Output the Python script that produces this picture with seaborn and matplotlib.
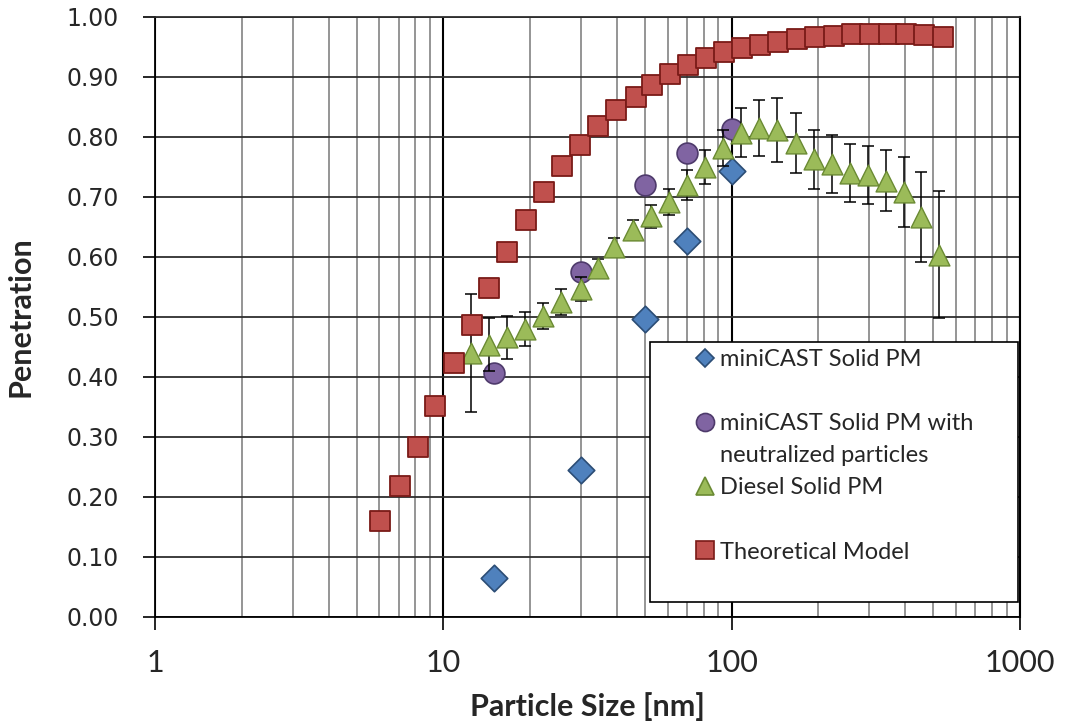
import numpy as np
import pandas as pd
import matplotlib
matplotlib.use("Agg")
import matplotlib.pyplot as plt
from matplotlib.lines import Line2D
from matplotlib.ticker import LogLocator, FixedLocator, NullFormatter
import seaborn as sns

# ---------------- data ----------------
minicast_x = [15, 30, 50, 70, 100]
minicast_y = [0.065, 0.245, 0.497, 0.627, 0.744]

neutral_x = [15, 30, 50, 70, 100]
neutral_y = [0.407, 0.575, 0.720, 0.774, 0.813]

diesel_x = [12.5, 14.4, 16.6, 19.2, 22.1, 25.5, 30.1, 34.3, 39.2, 45.6, 52.6,
            60.8, 70.2, 81.0, 93.4, 108, 124, 144, 167, 193, 222, 257, 296,
            342, 395, 455, 525]
diesel_y = [0.440, 0.454, 0.466, 0.480, 0.502, 0.525, 0.547, 0.582, 0.617,
            0.645, 0.668, 0.692, 0.720, 0.750, 0.782, 0.807, 0.815, 0.812,
            0.790, 0.763, 0.755, 0.740, 0.737, 0.727, 0.708, 0.667, 0.604]
diesel_err = [0.098, 0.044, 0.036, 0.028, 0.022, 0.021, 0.020, 0.014, 0.015,
              0.017, 0.019, 0.022, 0.025, 0.029, 0.030, 0.041, 0.047, 0.053,
              0.050, 0.049, 0.048, 0.048, 0.048, 0.051, 0.058, 0.075, 0.106]

theory_x = [6.04, 7.08, 8.18, 9.36, 10.9, 12.6, 14.4, 16.6, 19.3, 22.3, 25.7,
            29.7, 34.5, 39.8, 46.4, 53.1, 61.2, 70.7, 81.5, 94, 109, 125, 145,
            169, 195, 226, 262, 303, 350, 403, 465, 539]
theory_y = [0.160, 0.218, 0.283, 0.352, 0.424, 0.487, 0.549, 0.608, 0.662,
            0.709, 0.751, 0.787, 0.818, 0.845, 0.867, 0.887, 0.905, 0.920,
            0.931, 0.941, 0.948, 0.954, 0.959, 0.963, 0.966, 0.969, 0.971,
            0.972, 0.972, 0.972, 0.970, 0.966]

labels = ["miniCAST Solid PM", "miniCAST Solid PM with",
          "neutralized particles", "Diesel Solid PM", "Theoretical Model"]
x_ticks = [1, 10, 100, 1000]
x_ticklabels = ["1", "10", "100", "1000"]
y_ticks = [0.0, 0.1, 0.2, 0.3, 0.4, 0.5, 0.6, 0.7, 0.8, 0.9, 1.0]
y_ticklabels = ["0.00", "0.10", "0.20", "0.30", "0.40", "0.50", "0.60",
                "0.70", "0.80", "0.90", "1.00"]

# ---------------- style ----------------
sns.set_theme(style="white")
plt.rcParams['font.family'] = ['Lato', 'DejaVu Sans']

C_DIA, E_DIA = "#4F81BD", "#2C4D75"
C_CIR, E_CIR = "#8064A2", "#4E3A6B"
C_TRI, E_TRI = "#9BBB59", "#6A8A33"
C_SQ, E_SQ = "#C0504D", "#7A1A17"

fig = plt.figure(figsize=(10.67, 7.25), dpi=100)
ax = fig.add_axes([155/1067, 1 - 617/725, 865/1067, 600/725])

ax.set_xscale("log")
ax.set_xlim(1, 1000)
ax.set_ylim(0, 1.0)

# grid
ax.yaxis.set_major_locator(FixedLocator(y_ticks))
ax.xaxis.set_major_locator(FixedLocator(x_ticks))
ax.xaxis.set_minor_locator(LogLocator(base=10, subs=np.arange(2, 10)))
ax.xaxis.set_minor_formatter(NullFormatter())
ax.grid(True, which="major", axis="y", color="#2e2e2e", lw=1.3)
ax.grid(True, which="major", axis="x", color="#000000", lw=1.5)
ax.grid(True, which="minor", axis="x", color="#8c8c8c", lw=1.3)
ax.set_axisbelow(True)

# data
df_dia = pd.DataFrame({"x": minicast_x, "y": minicast_y})
df_cir = pd.DataFrame({"x": neutral_x, "y": neutral_y})
df_tri = pd.DataFrame({"x": diesel_x, "y": diesel_y})
df_sq = pd.DataFrame({"x": theory_x, "y": theory_y})

sns.scatterplot(data=df_dia, x="x", y="y", marker="D", s=13.5**2, color=C_DIA,
                edgecolor=E_DIA, linewidth=1.2, ax=ax, zorder=3)
sns.scatterplot(data=df_cir, x="x", y="y", marker="o", s=15**2, color=C_CIR,
                edgecolor=E_CIR, linewidth=1.2, ax=ax, zorder=4)
ax.errorbar(diesel_x, diesel_y, yerr=diesel_err, fmt="none", ecolor="black",
            elinewidth=1.1, capsize=4.5, capthick=1.1, zorder=4.5)
sns.scatterplot(data=df_tri, x="x", y="y", marker="^", s=15**2, color=C_TRI,
                edgecolor=E_TRI, linewidth=1.0, ax=ax, zorder=5)
sns.scatterplot(data=df_sq, x="x", y="y", marker="s", s=15**2, color=C_SQ,
                edgecolor=E_SQ, linewidth=1.3, ax=ax, zorder=6)

# spines
ax.spines["top"].set_color("#2e2e2e")
ax.spines["top"].set_linewidth(1.3)
ax.spines["right"].set_color("black")
ax.spines["right"].set_linewidth(1.5)
for s in ["left", "bottom"]:
    ax.spines[s].set_color("black")
    ax.spines[s].set_linewidth(1.3)

# ticks
ax.set_yticklabels(y_ticklabels, fontfamily="DejaVu Sans", fontsize=17)
ax.set_xticklabels(x_ticklabels, fontfamily="Lato", fontsize=22)
ax.tick_params(axis="y", which="major", direction="out", length=9, width=1.2,
               color="black", pad=17, left=True)
ax.tick_params(axis="x", which="major", direction="out", length=9, width=1.2,
               color="black", pad=14, bottom=True)
ax.tick_params(axis="x", which="minor", length=0)

ax.set_xlabel("Particle Size [nm]", fontsize=22, fontweight="bold", fontfamily="Lato")
ax.set_ylabel("Penetration", fontsize=22, fontweight="bold", fontfamily="Lato")
ax.xaxis.set_label_coords(0.5, -0.15)
ax.xaxis.label.set_va("center")
ax.yaxis.set_label_coords(-0.156, 0.5)
ax.yaxis.label.set_va("center")

# legend
def mk(marker, ms, fc, ec):
    return Line2D([], [], linestyle="none", marker=marker, markersize=ms,
                  markerfacecolor=fc, markeredgecolor=ec, markeredgewidth=1.2)

blank = Line2D([], [], linestyle="none")
handles = [mk("D", 9.5, C_DIA, E_DIA), blank,
           mk("o", 13, C_CIR, E_CIR), blank,
           mk("^", 12.5, C_TRI, E_TRI), blank,
           mk("s", 12.5, C_SQ, E_SQ), blank]
leg_labels = [labels[0], " ", labels[1], labels[2], labels[3], " ",
              labels[4], " "]
fs = 17
leg = ax.legend(handles, leg_labels, loc="upper left",
                bbox_to_anchor=(495/865, 0.0, 368/865, 275/600),
                mode="expand", borderaxespad=0, frameon=True, fancybox=False,
                shadow=False, labelspacing=0.47, borderpad=0.3,
                handlelength=4.05, handletextpad=-1.4,
                prop={"family": "Lato", "size": fs})
leg.get_frame().set_edgecolor("black")
leg.get_frame().set_linewidth(1.2)
leg.get_frame().set_facecolor("white")
leg.get_frame().set_alpha(1)
leg.set_zorder(10)

fig.savefig("out.png", dpi=100)
